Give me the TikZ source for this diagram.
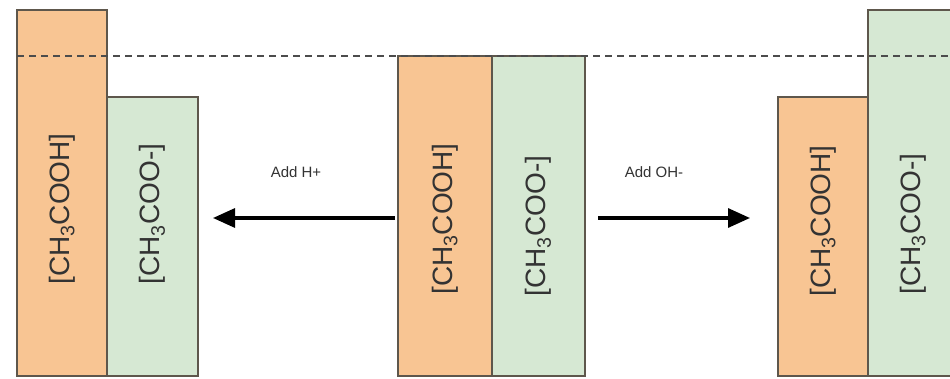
\documentclass[tikz,border=0pt]{standalone}
\usepackage{fontspec}
\setmainfont{Liberation Sans}
\usetikzlibrary{arrows.meta}
\definecolor{acidfill}{HTML}{F8C593}
\definecolor{basefill}{HTML}{D6E8D3}
\definecolor{barline}{HTML}{5E574C}
\definecolor{txt}{HTML}{333333}
\tikzset{
  bar/.style={draw=barline, line width=1.8pt, anchor=north west, inner sep=0pt, outer sep=0pt},
  acid/.style={bar, fill=acidfill},
  base/.style={bar, fill=basefill},
  barlabel/.style={rotate=90, text=txt, font=\fontsize{28}{30}\selectfont, inner sep=0pt},
  addlabel/.style={text=txt, font=\fontsize{15}{18}\selectfont, inner sep=0pt},
  react/.style={line width=3.2pt, -{Triangle[length=22pt,width=19pt]}},
  level/.style={draw=black!70, line width=1.5pt, dash pattern=on 7pt off 5pt}
}
\newcommand{\acidtxt}{[CH\textsubscript{3}COOH]}
\newcommand{\basetxt}{[CH\textsubscript{3}COO-]}
\begin{document}
\begin{tikzpicture}[x=1pt,y=-1pt]
\useasboundingbox (0,0) rectangle (950,379);
\clip (0,0) rectangle (950,379);
\fill[white] (0,0) rectangle (950,379);
% bars
\node[acid, minimum width=90pt, minimum height=366pt] (lA) at (17,10) {};
\node[base, minimum width=91pt, minimum height=279pt] (lB) at (107,97) {};
\node[acid, minimum width=94pt, minimum height=320pt] (mA) at (398,56) {};
\node[base, minimum width=93pt, minimum height=320pt] (mB) at (492,56) {};
\node[acid, minimum width=90pt, minimum height=279pt] (rA) at (778,97) {};
\node[base, minimum width=92pt, minimum height=366pt] (rB) at (868,10) {};
% dashed level
\coordinate (dashL) at (17,56);
\coordinate (dashR) at (950,56);
\draw[level] (dashL) -- (dashR);
% labels in bars
\coordinate (ly1) at (0,209);
\coordinate (ly2) at (0,214);
\coordinate (ly3) at (0,219);
\coordinate (ly4) at (0,226);
\coordinate (ly5) at (0,221);
\coordinate (ly6) at (0,224);
\node[barlabel] (tlA) at (lA.center |- ly1) {\acidtxt};
\node[barlabel] (tlB) at (lB.center |- ly2) {\basetxt};
\node[barlabel] (tmA) at (mA.center |- ly3) {\acidtxt};
\node[barlabel] (tmB) at (mB.center |- ly4) {\basetxt};
\node[barlabel] (trA) at (rA.center |- ly5) {\acidtxt};
\node[barlabel] (trB) at ([xshift=-1pt]rB.center |- ly6) {\basetxt};
% arrows
\coordinate (ay) at (0,218);
\draw[react, shorten <=3pt, shorten >=15pt] (mA.west |- ay) -- (lB.east |- ay);
\draw[react, shorten <=13pt, shorten >=28pt] (mB.east |- ay) -- (rA.west |- ay);
\node[addlabel] (addH) at (296,172) {Add H+};
\node[addlabel] (addOH) at (654,172) {Add OH-};
\end{tikzpicture}
\end{document}
